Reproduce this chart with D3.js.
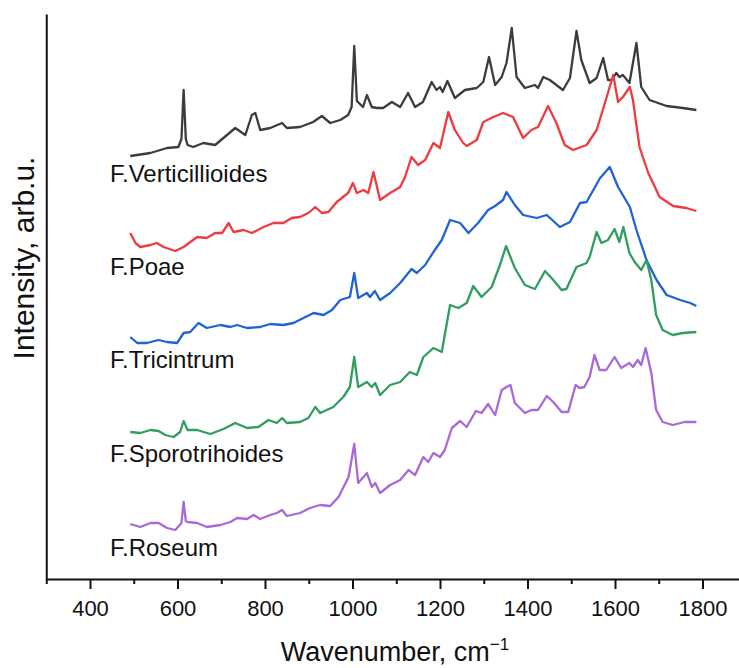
<!DOCTYPE html>
<html>
<head>
<meta charset="utf-8">
<script src="https://cdn.jsdelivr.net/npm/d3@7"></script>
<style>
  body { margin: 0; background: #fff; }
  svg text { font-family: "Liberation Sans", Arial, sans-serif; fill: #111; }
</style>
</head>
<body>
<div id="chart"></div>
<script>
// spectra: [wavenumber, intensity arb.u.], offsets already included
var verticillioides = [[492,423],[538,426],[576,431],[602,432],[609,440],[614,489],[619,440],[623,434],[636,432],[659,436],[686,434],[705,441],[732,451],[755,444],[770,464],[778,466],[789,449],[812,451],[839,456],[850,451],[880,452],[910,457],[930,463],[949,456],[972,459],[990,464],[998,472],[1004,533],[1010,478],[1024,472],[1033,484],[1044,472],[1055,471],[1070,471],[1090,477],[1109,472],[1127,486],[1143,472],[1161,477],[1181,497],[1192,489],[1200,492],[1206,487],[1217,498],[1234,481],[1257,489],[1284,491],[1299,497],[1312,522],[1326,494],[1341,502],[1352,516],[1364,551],[1375,502],[1394,491],[1417,494],[1424,491],[1436,502],[1451,499],[1481,489],[1497,501],[1512,548],[1523,519],[1542,496],[1558,501],[1573,521],[1584,499],[1592,499],[1603,506],[1610,502],[1618,504],[1633,496],[1649,536],[1660,492],[1679,479],[1718,473],[1755,471],[1786,469]];

var poae = [[492,346],[504,336],[515,332],[538,334],[553,336],[568,332],[595,328],[614,332],[645,342],[667,341],[686,346],[702,346],[717,356],[728,347],[751,349],[770,346],[797,352],[819,356],[842,356],[861,361],[880,362],[899,366],[915,372],[930,366],[945,367],[964,377],[990,386],[1001,396],[1010,386],[1025,389],[1036,386],[1048,407],[1063,379],[1086,386],[1109,392],[1120,402],[1135,422],[1150,414],[1166,419],[1185,436],[1200,431],[1219,467],[1234,449],[1253,436],[1261,433],[1284,439],[1299,457],[1322,462],[1344,466],[1367,462],[1390,441],[1409,449],[1424,452],[1447,473],[1466,456],[1485,434],[1504,429],[1535,434],[1558,449],[1577,476],[1596,504],[1607,477],[1618,482],[1634,492],[1641,479],[1656,432],[1676,406],[1702,382],[1733,373],[1763,371],[1786,368]];

var tricintrum = [[492,242],[508,236],[530,236],[557,239],[576,237],[599,236],[614,246],[629,247],[648,256],[667,251],[698,254],[721,252],[736,254],[759,251],[789,252],[812,255],[842,254],[865,256],[888,261],[911,266],[934,264],[953,269],[972,279],[994,282],[1004,306],[1013,281],[1033,286],[1040,282],[1051,288],[1063,279],[1086,286],[1109,296],[1135,310],[1147,306],[1166,314],[1185,327],[1204,339],[1223,359],[1246,356],[1265,346],[1287,356],[1310,369],[1326,373],[1344,379],[1352,387],[1371,374],[1390,364],[1421,361],[1444,364],[1474,352],[1497,357],[1520,376],[1535,377],[1566,401],[1588,412],[1607,392],[1634,372],[1649,349],[1672,319],[1695,299],[1718,284],[1749,279],[1772,276],[1786,273]];

var sporotrihoides = [[492,147],[515,146],[538,149],[557,148],[572,144],[591,142],[606,147],[614,158],[623,149],[645,149],[675,145],[705,150],[732,156],[759,151],[785,152],[808,159],[827,156],[839,161],[850,156],[880,157],[899,161],[915,172],[926,166],[956,172],[979,182],[994,192],[1004,222],[1013,192],[1033,197],[1044,192],[1052,196],[1063,184],[1086,194],[1109,197],[1131,207],[1147,204],[1162,222],[1185,231],[1204,227],[1223,274],[1242,271],[1261,276],[1276,293],[1295,282],[1318,292],[1337,314],[1351,333],[1371,311],[1394,294],[1417,290],[1440,308],[1459,299],[1478,289],[1489,290],[1512,312],[1535,316],[1542,322],[1558,347],[1569,336],[1584,339],[1599,350],[1610,337],[1619,352],[1633,326],[1645,317],[1660,309],[1672,319],[1683,299],[1694,264],[1709,249],[1732,244],[1755,246],[1786,247]];

var roseum = [[492,55],[515,52],[538,56],[557,56],[576,51],[595,49],[609,56],[614,77],[619,58],[623,57],[645,56],[667,52],[698,54],[721,57],[736,61],[759,60],[774,64],[789,60],[812,64],[827,66],[839,69],[850,63],[880,66],[903,71],[926,74],[949,73],[968,82],[991,102],[1004,135],[1013,96],[1033,106],[1044,92],[1052,96],[1063,86],[1086,94],[1109,99],[1128,109],[1143,104],[1162,122],[1173,117],[1185,126],[1200,122],[1211,129],[1227,151],[1246,158],[1261,152],[1282,168],[1295,166],[1310,175],[1326,164],[1341,189],[1352,192],[1361,194],[1371,176],[1394,166],[1409,169],[1424,169],[1444,183],[1459,177],[1478,167],[1493,167],[1510,194],[1519,191],[1530,192],[1542,202],[1553,224],[1565,209],[1580,209],[1599,222],[1614,211],[1633,216],[1641,212],[1652,219],[1660,214],[1670,231],[1683,206],[1694,169],[1709,157],[1732,154],[1759,157],[1786,157]];

var seriesNames = ["F.Verticillioides", "F.Poae", "F.Tricintrum", "F.Sporotrihoides", "F.Roseum"];
var seriesColors = ["#3c3c3c", "#ee3b3f", "#2163d3", "#2f9e5f", "#a869d9"];
var labelLevels = [397, 304, 211, 117, 23];   // label baselines, arb.u.
var majorTicks = [400, 600, 800, 1000, 1200, 1400, 1600, 1800];
var minorTicks = [300, 500, 700, 900, 1100, 1300, 1500, 1700, 1900];

var W = 739, H = 668;

var x = d3.scaleLinear().domain([300, 1900]).range([46.25, 746.25]);
var y = d3.scaleLinear().domain([0, 565]).range([579, 14]);

var svg = d3.select("#chart").append("svg")
	.attr("width", W)
	.attr("height", H);

var line = d3.line()
	.x(function(d){ return x(d[0]); })
	.y(function(d){ return y(d[1]); });

var spectra = [verticillioides, poae, tricintrum, sporotrihoides, roseum];

svg.selectAll(".spec")
	.data(spectra)
	.enter().append("path")
		.attr("class", "spec")
		.attr("d", line)
		.attr("fill", "none")
		.attr("stroke", function(d, i){ return seriesColors[i]; })
		.attr("stroke-width", 2.3)
		.attr("stroke-linejoin", "round");

svg.selectAll(".lbl")
	.data(seriesNames)
	.enter().append("text")
		.attr("class", "lbl")
		.attr("x", 110)
		.attr("y", function(d, i){ return y(labelLevels[i]); })
		.style("font-size", "24px")
		.text(function(d){ return d; });

// x axis: major + minor ticks
var xAxis = svg.append("g")
	.attr("transform", "translate(0," + y(0) + ")")
	.call(d3.axisBottom(x).tickValues(majorTicks).tickSize(10).tickSizeOuter(0).tickPadding(11).tickFormat(d3.format("d")));
xAxis.select(".domain").attr("stroke", "#111").attr("stroke-width", 2);
xAxis.selectAll(".tick line").attr("stroke", "#111").attr("stroke-width", 2);
xAxis.selectAll(".tick text").style("font-size", "22px").attr("fill", "#111");

var xMinor = svg.append("g")
	.attr("transform", "translate(0," + y(0) + ")")
	.call(d3.axisBottom(x).tickValues(minorTicks).tickSize(5).tickSizeOuter(0).tickFormat(""));
xMinor.select(".domain").remove();
xMinor.selectAll(".tick line").attr("stroke", "#111").attr("stroke-width", 2);

// y axis: line only
var yAxis = svg.append("g")
	.attr("transform", "translate(" + x(300) + ",0)")
	.call(d3.axisLeft(y).tickValues([]).tickSizeOuter(0));
yAxis.select(".domain").attr("stroke", "#111").attr("stroke-width", 2);

// axis titles
var xt = svg.append("text")
	.attr("x", 395)
	.attr("y", 661)
	.attr("text-anchor", "middle")
	.style("font-size", "27px");
xt.append("tspan").text("Wavenumber, cm");
xt.append("tspan").attr("dy", -11).style("font-size", "17px").text("\u22121");

svg.append("text")
	.attr("transform", "translate(34,258) rotate(-90)")
	.attr("text-anchor", "middle")
	.style("font-size", "30px")
	.text("Intensity, arb.u.");
</script>
</body>
</html>
